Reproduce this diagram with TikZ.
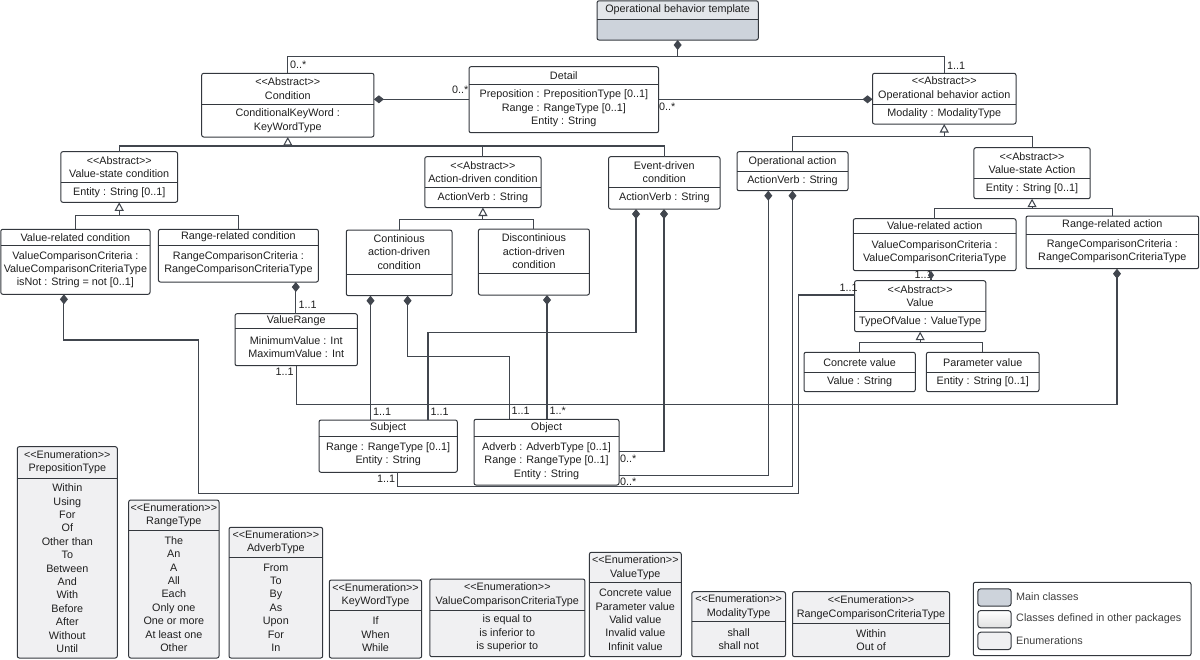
\documentclass[tikz,border=0pt]{standalone}
\usepackage{fontspec}
\setmainfont{Liberation Sans}
\usetikzlibrary{arrows.meta,fit}

\definecolor{linecol}{HTML}{41464E}
\definecolor{boxcol}{HTML}{33373D}
\definecolor{mainhead}{HTML}{E3E6EA}
\definecolor{mainbody}{HTML}{CDD3DB}
\definecolor{enumfill}{HTML}{F0F0F2}

% stereotype without the << ligature
\newcommand{\stereo}[1]{<\kern0pt<#1>\kern0pt>}

% class box: name, kind, x1, y1, x2, y of divider, y2, head text, body text
\newcommand{\umlclass}[9]{%
  \node [compart, #2, fit={(#3,#4) (#5,#6)}] (#1) {};
  \node [compart, #2-body, fit={(#3,#6) (#5,#7)}] (#1-b) {};
  \draw [boxline] (#1.north west) rectangle (#1-b.south east);
  \draw [boxline] (#1-b.north west) -- (#1-b.north east);
  \node [ctext] (#1-h) at (#1.center) {#8};
  \node [ctext] (#1-a) at (#1-b.center) {#9};
}

\begin{document}
\begin{tikzpicture}[%
      x=1pt, y=-1pt,
      font=\fontsize{10.8}{13.4}\selectfont,
      text=black!88,
      compart/.style={inner sep=0pt, outer sep=0pt},
      ctext/.style={inner sep=0pt, align=center},
      clsbox/.style={fill=white},
      clsbox-body/.style={fill=white},
      mainbox/.style={fill=mainhead},
      mainbox-body/.style={fill=mainbody},
      enumbox/.style={fill=enumfill},
      enumbox-body/.style={fill=enumfill},
      boxline/.style={draw=boxcol, line width=1pt, rounded corners=2pt},
      conn/.style={draw=linecol, line width=1.05pt},
      comp/.style={conn, {Diamond[length=10pt, width=8pt]}-},
      compsmall/.style={conn, {Diamond[length=9pt, width=6pt]}-},
      gen/.style={conn, -{Triangle[open, length=8.5pt, width=9pt]}},
      mult/.style={inner sep=0.5pt, anchor=west},
      legendbox/.style={draw=boxcol, line width=1pt, rounded corners=2pt, fill=white, inner sep=0pt},
      swatch/.style={draw=boxcol, line width=1pt, rounded corners=3pt, minimum width=33.4pt, minimum height=17.4pt, inner sep=0pt, anchor=north west},
      legtext/.style={anchor=west, inner sep=0pt, text=black!75},
      ]
      \useasboundingbox (0,0) rectangle (1200,659);

      % classes
      \umlclass{tmpl}{mainbox}{597}{0.8}{758.3}{19}{40}{Operational behavior template}{}
      \umlclass{cond}{clsbox}{201.7}{73.3}{373.9}{104.3}{137}{\stereo{Abstract}\\Condition}{ConditionalKeyWord :\\KeyWordType}
      \umlclass{detail}{clsbox}{469}{66.7}{658.6}{84.3}{132.7}{Detail}{Preposition : PrepositionType [0..1]\\Range : RangeType [0..1]\\Entity : String}
      \umlclass{oba}{clsbox}{872.5}{73.3}{1016}{104.3}{124}{\stereo{Abstract}\\Operational behavior action}{Modality : ModalityType}
      \umlclass{vsc}{clsbox}{60.8}{151.7}{177.6}{182.3}{202.3}{\stereo{Abstract}\\Value-state condition}{Entity : String [0..1]}
      \umlclass{adc}{clsbox}{424.8}{156.7}{541}{187.7}{207.5}{\stereo{Abstract}\\Action-driven condition}{ActionVerb : String}
      \umlclass{edc}{clsbox}{608.6}{156.7}{720}{187.3}{209}{Event-driven\\condition}{ActionVerb : String}
      \umlclass{opa}{clsbox}{737}{151.7}{848}{171}{190.7}{Operational action}{ActionVerb : String}
      \umlclass{vsa}{clsbox}{973.9}{147.7}{1090.2}{178.7}{198.7}{\stereo{Abstract}\\Value-state Action}{Entity : String [0..1]}
      \umlclass{vrc}{clsbox}{0.8}{229.3}{150}{245}{294.3}{Value-related condition}{ValueComparisonCriteria :\\ValueComparisonCriteriaType\\isNot : String = not [0..1]}
      \umlclass{rrc}{clsbox}{158.4}{229.3}{318.4}{245}{282}{Range-related condition}{RangeComparisonCriteria :\\RangeComparisonCriteriaType}
      \umlclass{cadc}{clsbox}{346.3}{230}{452}{274}{295.7}{Continious\\action-driven\\condition}{}
      \umlclass{dadc}{clsbox}{478.4}{229}{589.4}{273.3}{295}{Discontinious\\action-driven\\condition}{}
      \umlclass{vra}{clsbox}{853.3}{218.7}{1016}{233.3}{270.7}{Value-related action}{ValueComparisonCriteria :\\ValueComparisonCriteriaType}
      \umlclass{rra}{clsbox}{1026}{216}{1198.7}{234}{268.7}{Range-related action}{RangeComparisonCriteria :\\RangeComparisonCriteriaType}
      \umlclass{val}{clsbox}{854.5}{280.7}{985.8}{311.7}{331.7}{\stereo{Abstract}\\Value}{TypeOfValue : ValueType}
      \umlclass{vrange}{clsbox}{235}{313.7}{357.4}{328.3}{365.7}{ValueRange}{MinimumValue : Int\\MaximumValue : Int}
      \umlclass{cval}{clsbox}{804}{352.3}{915.3}{372.3}{391.7}{Concrete value}{Value : String}
      \umlclass{pval}{clsbox}{926.4}{352.3}{1039}{372.3}{391.7}{Parameter value}{Entity : String [0..1]}
      \umlclass{subj}{clsbox}{319}{420}{457.3}{436}{472.3}{Subject}{Range : RangeType [0..1]\\Entity : String}
      \umlclass{obj}{clsbox}{474}{419.3}{619}{436.7}{485}{Object}{Adverb : AdverbType [0..1]\\Range : RangeType [0..1]\\Entity : String}

      % enumerations
      \umlclass{eprep}{enumbox}{17.3}{446.7}{117.3}{478.3}{658}{\stereo{Enumeration}\\PrepositionType}{Within\\Using\\For\\Of\\Other than\\To\\Between\\And\\With\\Before\\After\\Without\\Until}
      \umlclass{erange}{enumbox}{128.7}{500}{219}{530}{658}{\stereo{Enumeration}\\RangeType}{The\\An\\A\\All\\Each\\Only one\\One or more\\At least one\\Other}
      \umlclass{eadverb}{enumbox}{229}{527.3}{322.7}{557.3}{658}{\stereo{Enumeration}\\AdverbType}{From\\To\\By\\As\\Upon\\For\\In}
      \umlclass{ekeyword}{enumbox}{329.3}{580}{421.7}{610.7}{658}{\stereo{Enumeration}\\KeyWordType}{If\\When\\While}
      \umlclass{evcc}{enumbox}{429.8}{579}{584.9}{610}{656.7}{\stereo{Enumeration}\\ValueComparisonCriteriaType}{is equal to\\is inferior to\\is superior to}
      \umlclass{evalue}{enumbox}{589.4}{552.3}{681.3}{582.7}{656.7}{\stereo{Enumeration}\\ValueType}{Concrete value\\Parameter value\\Valid value\\Invalid value\\Infinit value}
      \umlclass{emodality}{enumbox}{691.8}{591.7}{785.5}{621.7}{656.7}{\stereo{Enumeration}\\ModalityType}{shall\\shall not}
      \umlclass{ercc}{enumbox}{792.5}{591.7}{949.6}{623.3}{656.7}{\stereo{Enumeration}\\RangeComparisonCriteriaType}{Within\\Out of}

      % generalizations
      \draw [conn] (vsc.north) |- (edc.north |- 0,146) -- (edc.north);
      \draw [conn] (adc.north) -- (adc.north |- 0,146);
      \draw [gen] (cond-b.south |- 0,146) -- (cond-b.south);
      \draw [conn] (opa.north) |- (vsa.north |- 0,136.7) -- (vsa.north);
      \draw [gen] (oba-b.south |- 0,136.7) -- (oba-b.south);
      \draw [conn] (vrc.north) |- (rrc.north |- 0,215.7) -- (rrc.north);
      \draw [gen] (vsc-b.south |- 0,215.7) -- (vsc-b.south);
      \draw [conn] (cadc.north) |- (dadc.north |- 0,219.3) -- (dadc.north);
      \draw [gen] (adc-b.south |- 0,219.3) -- (adc-b.south);
      \draw [conn] (vra.north) |- (rra.north |- 0,208.3) -- (rra.north);
      \draw [gen] (vsa-b.south |- 0,208.3) -- (vsa-b.south);
      \draw [conn] (cval.north) |- (pval.north |- 0,342.3) -- (pval.north);
      \draw [gen] (val-b.south |- 0,342.3) -- (val-b.south);

      % compositions
      \draw [comp] (tmpl-b.south) -- (tmpl-b.south |- 0,56.7);
      \draw [conn] (cond.north) |- (oba.north |- 0,56.7) -- (oba.north);
      \draw [comp] (cond.east |- 0,99.3) -- (detail-b.west |- 0,99.3);
      \draw [comp] (oba.west |- 0,99.3) -- (detail-b.east |- 0,99.3);
      \draw [comp] (rrc-b.south -| 295.8,0) -- (vrange.north -| 295.8,0);
      \draw [comp] (rra-b.south -| 1117,0) |- (296.6,404.3) -- (vrange-b.south -| 296.6,0);
      \draw [comp] (cadc-b.south -| 370.5,0) -- (subj.north -| 370.5,0);
      \draw [comp] (cadc-b.south -| 407.6,0) |- (509.3,356.7) -- (obj.north -| 509.3,0);
      \draw [comp] (dadc-b.south -| 547,0) -- (obj.north -| 547,0);
      \draw [comp] (edc-b.south -| 636,0) |- (428,332.3) -- (subj.north -| 428,0);
      \draw [comp] (edc-b.south -| 664,0) |- (obj-b.east |- 0,451.5);
      \draw [comp] (opa-b.south -| 768.3,0) |- (obj-b.east |- 0,475.5);
      \draw [comp] (opa-b.south -| 792.5,0) |- (397.7,486.7) -- (subj-b.south -| 397.7,0);
      \draw [comp] (vrc-b.south -| 63.9,0) |- (198.2,340) |- (798.3,493.5) |- (val.west |- 0,295);

      % multiplicities
      \node [mult] (m1) at (289.5,65) {0..*};
      \node [mult] (m2) at (946.5,65.7) {1..1};
      \node [mult] (m3) at (451.5,90) {0..*};
      \node [mult] (m4) at (658.5,106.7) {0..*};
      \node [mult] (m5) at (298,305) {1..1};
      \node [mult] (m6) at (275,371.7) {1..1};
      \node [mult] (m7) at (372.5,411.7) {1..1};
      \node [mult] (m8) at (430,411.7) {1..1};
      \node [mult] (m9) at (511,410.7) {1..1};
      \node [mult] (m10) at (549,410.7) {1..*};
      \node [mult] (m11) at (619.5,458.7) {0..*};
      \node [mult] (m12) at (619.5,481.5) {0..*};
      \node [mult] (m13) at (376.5,478.3) {1..1};
      \node [mult] (m14) at (914,274.5) {1..1};
      \node [mult] (m15) at (839,287.3) {1..1};
      \draw [compsmall] (vra-b.south -| 931,0) -- (val.north -| 931,0);

      % legend
      \node [legendbox, fit={(973.3,582.3) (1191,655.7)}] (legend) {};
      \node [swatch, fill=mainbody] (sw1) at (977.3,588.3) {};
      \node [swatch, top color=white, bottom color=black!12] (sw2) at (977.3,610) {};
      \node [swatch, fill=enumfill] (sw3) at (977.3,631.7) {};
      \node [legtext] (lg1) at (1016,596.7) {Main classes};
      \node [legtext] (lg2) at (1016,618.5) {Classes defined in other packages};
      \node [legtext] (lg3) at (1016,640.7) {Enumerations};
\end{tikzpicture}
\end{document}
